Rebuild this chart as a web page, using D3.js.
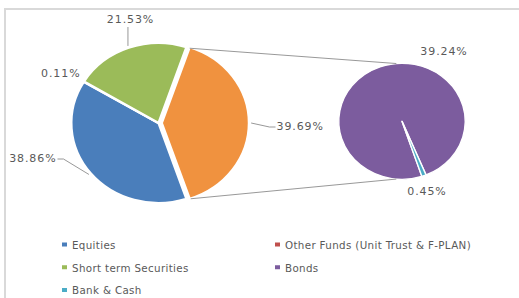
<!DOCTYPE html>
<html>
<head>
<meta charset="utf-8">
<script src="https://cdn.jsdelivr.net/npm/d3@7"></script>
<style>
  body { margin: 0; background: #fff; }
  text { font-family: "DejaVu Sans", sans-serif; fill: #595959; }
</style>
</head>
<body>
<div id="js-chart"></div>
<script>
//  Data
var mainNames  = ["Equities", "Other Funds (Unit Trust & F-PLAN)", "Short term Securities", "Other"];
var mainValues = [38.86, 0.11, 21.53, 39.69];
var subNames   = ["Bonds", "Bank & Cash"];
var subValues  = [39.24, 0.45];
var legendNames = ["Equities", "Other Funds (Unit Trust & F-PLAN)", "Short term Securities", "Bonds", "Bank & Cash"];

//  Colours
var colors = {
  "Equities": "#4a7ebb",
  "Other Funds (Unit Trust & F-PLAN)": "#c0504d",
  "Short term Securities": "#9bbb59",
  "Other": "#f0923f",
  "Bonds": "#7c5c9e",
  "Bank & Cash": "#4bacc6"
};

// ---------------------------------------------------------------------------------- //
var width = 519, height = 298;
var pi = Math.PI;
var sx = 1.09;             // picture is slightly stretched sideways

var mainC = {x: 158.5, y: 123, r: 80};
var subC  = {x: 402,   y: 121.3, r: 58};
var explode = 3;

var svg = d3.select("#js-chart")
  .append("svg")
  .attr("width", width)
  .attr("height", height);

//  Frame
svg.append("path")
  .attr("d", "M5," + height + "V9H" + width)
  .attr("fill", "none")
  .attr("stroke", "#d9d9d9")
  .attr("stroke-width", 2);

// ---------------------------------------------------------------------------------- //
//  Main pie, "Other" slice centred at 3 o'clock
var total = d3.sum(mainValues);
var otherFrac = mainValues[3] / total;
var startA = pi / 2 + otherFrac * pi;

var mainPie = d3.pie().sort(null).startAngle(startA).endAngle(startA + 2 * pi);
var mainArcs = mainPie(mainValues);
var arc = d3.arc().innerRadius(0).outerRadius(mainC.r);

function pt(c, a, r, dx) {
  return [c.x + (dx || 0) + Math.sin(a) * r * sx, c.y - Math.cos(a) * r];
}

var gMain = svg.append("g")
  .attr("transform", "translate(" + mainC.x + "," + mainC.y + ") scale(" + sx + ",1)");

gMain.selectAll("path")
  .data(mainArcs)
  .enter().append("path")
  .attr("d", arc)
  .attr("transform", function(d, i) {
    if (i != 3) return null;
    var m = (d.startAngle + d.endAngle) / 2;
    return "translate(" + (Math.sin(m) * explode) + "," + (-Math.cos(m) * explode) + ")";
  })
  .attr("fill", function(d, i) { return colors[mainNames[i]]; })
  .attr("stroke", "#fff")
  .attr("stroke-width", 2.2)
  .attr("stroke-linejoin", "round");

// ---------------------------------------------------------------------------------- //
//  Secondary pie
var subStart = 161.7 * pi / 180;
var subPie = d3.pie().sort(null).startAngle(subStart).endAngle(subStart + 2 * pi);
var subArcs = subPie(subValues);
var subArc = d3.arc().innerRadius(0).outerRadius(subC.r);

var gSub = svg.append("g")
  .attr("transform", "translate(" + subC.x + "," + subC.y + ") scale(" + sx + ",1)");

gSub.selectAll("path")
  .data(subArcs)
  .enter().append("path")
  .attr("d", subArc)
  .attr("fill", function(d, i) { return colors[subNames[i]]; })
  .attr("stroke", "#fff")
  .attr("stroke-width", 1.3)
  .attr("stroke-linejoin", "round");

// ---------------------------------------------------------------------------------- //
//  Connector lines between the pies
var o = mainArcs[3];
var ex = explode * sx;
var p1 = pt(mainC, o.startAngle, mainC.r, ex);
var p2 = pt(mainC, o.endAngle, mainC.r, ex);
var q1 = pt(subC, -0.09, subC.r);
var q2 = pt(subC, pi + 0.09, subC.r);

svg.append("line")
  .attr("x1", p1[0]).attr("y1", p1[1] + 1)
  .attr("x2", q1[0]).attr("y2", q1[1])
  .attr("stroke", "#8c8c8c").attr("stroke-width", 0.9);
svg.append("line")
  .attr("x1", p2[0] + 1).attr("y1", p2[1])
  .attr("x2", q2[0]).attr("y2", q2[1])
  .attr("stroke", "#8c8c8c").attr("stroke-width", 0.9);

// ---------------------------------------------------------------------------------- //
//  Data labels (layout: label anchor relative to pie centre)
function fmt(v) { return v.toFixed(2) + "%"; }

var mainLabelPos = [
  {dx: -102, dy: 39, anchor: "end", leader: "elbow"},
  {dx: -78,  dy: -46, anchor: "end", leader: null},
  {dx: -28,  dy: -100, anchor: "middle", leader: "up"},
  {dx: 118,  dy: 7,  anchor: "start", leader: "elbow"}
];

mainArcs.forEach(function(d, i) {
  var lp = mainLabelPos[i];
  var lx = mainC.x + lp.dx, ly = mainC.y + lp.dy;
  var m = (d.startAngle + d.endAngle) / 2;
  var rim = pt(mainC, m, mainC.r + 2, i == 3 ? ex : 0);
  if (lp.leader == "elbow") {
    var dir = lp.anchor == "end" ? 1 : -1;
    svg.append("polyline")
      .attr("points", [rim, [lx + dir * 7, ly - 3], [lx + dir * 1, ly - 3]].join(" "))
      .attr("fill", "none")
      .attr("stroke", "#8c8c8c")
      .attr("stroke-width", 0.9);
  } else if (lp.leader == "up") {
    svg.append("line")
      .attr("x1", rim[0]).attr("y1", rim[1])
      .attr("x2", rim[0]).attr("y2", ly + 4)
      .attr("stroke", "#8c8c8c")
      .attr("stroke-width", 0.9);
  }
  svg.append("text")
    .attr("x", lx).attr("y", ly)
    .attr("text-anchor", lp.anchor)
    .style("font-size", "11px")
    .style("letter-spacing", "0.9px")
    .text(fmt(mainValues[i]));
});

var subLabelPos = [
  {dx: 42, dy: -66},
  {dx: 25, dy: 74}
];

subArcs.forEach(function(d, i) {
  var lp = subLabelPos[i];
  svg.append("text")
    .attr("x", subC.x + lp.dx).attr("y", subC.y + lp.dy)
    .attr("text-anchor", "middle")
    .style("font-size", "11px")
    .style("letter-spacing", "0.9px")
    .text(fmt(subValues[i]));
});

// ---------------------------------------------------------------------------------- //
//  Legend
var legendX = d3.scalePoint().domain([0, 1]).range([62, 275]);
var legendY = d3.scalePoint().domain([0, 1, 2]).range([245, 290.5]);

var items = svg.selectAll("g.legend")
  .data(legendNames)
  .enter().append("g")
  .attr("class", "legend")
  .attr("transform", function(d, i) {
    return "translate(" + legendX(i % 2) + "," + legendY(Math.floor(i / 2)) + ")";
  });

items.append("rect")
  .attr("x", 0).attr("y", -2.5)
  .attr("width", 5).attr("height", 4)
  .attr("fill", function(d) { return colors[d]; });

items.append("text")
  .attr("x", 10).attr("y", 3.8)
  .style("font-size", "10.3px")
  .style("letter-spacing", "0.35px")
  .text(function(d) { return d; });
</script>
</body>
</html>
